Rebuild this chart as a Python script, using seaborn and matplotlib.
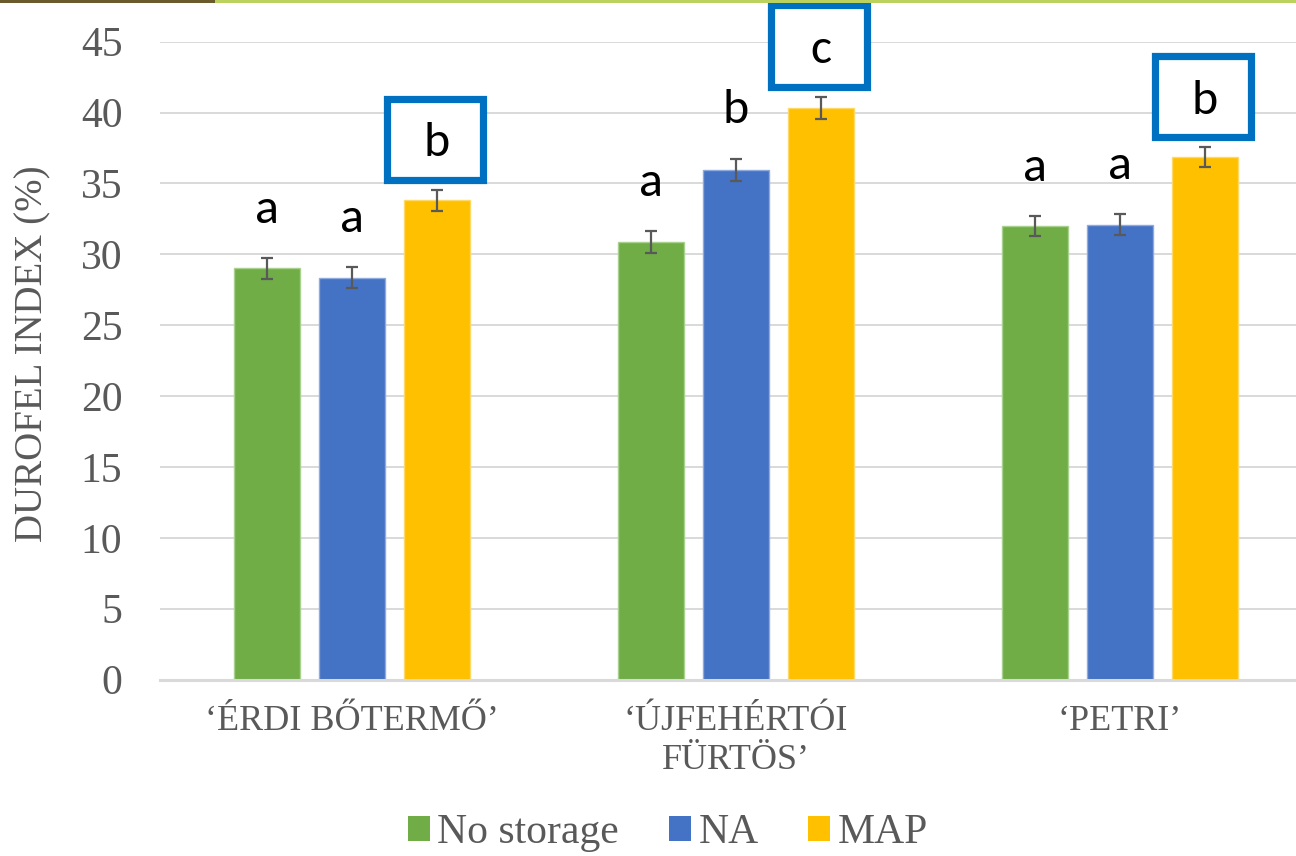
import matplotlib
matplotlib.use("Agg")
import matplotlib.pyplot as plt
from matplotlib.patches import Patch, Rectangle
import seaborn as sns
import pandas as pd

# Durofel firmness index per cultivar and storage treatment
cultivars = ["‘ÉRDI BŐTERMŐ’", "‘ÚJFEHÉRTÓI\nFÜRTÖS’", "‘PETRI’"]
treatments = ["No storage", "NA", "MAP"]

no_storage = [29.0, 30.85, 32.0]
na = [28.35, 35.95, 32.1]
map_storage = [33.8, 40.35, 36.85]

no_storage_err = [0.76, 0.78, 0.72]
na_err = [0.72, 0.80, 0.72]
map_err = [0.74, 0.78, 0.70]

# significance letters (Tukey groups)
no_storage_letters = ["a", "a", "a"]
na_letters = ["a", "b", "a"]
map_letters = ["b", "c", "b"]
highlighted = "MAP"

y_ticks = [0, 5, 10, 15, 20, 25, 30, 35, 40, 45]

colors = {"No storage": "#70AD47", "NA": "#4472C4", "MAP": "#FFC000"}
edges = {"No storage": "#A9D18E", "NA": "#8FAADC", "MAP": "#FFD966"}

values = {"No storage": no_storage, "NA": na, "MAP": map_storage}
errors = {"No storage": no_storage_err, "NA": na_err, "MAP": map_err}
letters = {"No storage": no_storage_letters, "NA": na_letters, "MAP": map_letters}

df = pd.DataFrame(
    [(c, t, values[t][i]) for t in treatments for i, c in enumerate(cultivars)],
    columns=["cultivar", "treatment", "value"],
)

sns.set_style("white")
plt.rcParams["font.family"] = "Liberation Serif"
serif = "Liberation Serif"
sans = "Carlito"
grey = "#595959"

W, H = 1296, 856
fig = plt.figure(figsize=(W / 100, H / 100), dpi=100)
ax_left, ax_right, ax_top, ax_bottom = 160, 1312, 41.7, 679.5
ax = fig.add_axes([ax_left / W, 1 - ax_bottom / H,
                   (ax_right - ax_left) / W, (ax_bottom - ax_top) / H])

sns.barplot(data=df, x="cultivar", y="value", hue="treatment",
            order=cultivars, hue_order=treatments, palette=colors,
            saturation=1, width=0.663, gap=0.22, errorbar=None,
            legend=False, ax=ax, zorder=2)

for container, t in zip(ax.containers, treatments):
    xs = []
    for bar in container:
        bar.set_edgecolor(edges[t])
        bar.set_linewidth(1.0)
        xs.append(bar.get_x() + bar.get_width() / 2)
    ax.errorbar(xs, values[t], yerr=errors[t], fmt="none", ecolor=grey,
                elinewidth=1.6, capsize=4.3, capthick=1.6, zorder=3)
    for x, v, e, lab in zip(xs, values[t], errors[t], letters[t]):
        ly = v + e + 3.4
        if t == highlighted:
            ly -= 0.1
            ax.add_patch(Rectangle((x - 0.131, ly - 2.6), 0.25, 5.75,
                                   facecolor="white", edgecolor="#0070C0",
                                   linewidth=5.2, clip_on=False, zorder=4))
        ax.text(x, ly, lab, ha="center", va="center", fontsize=36,
                family=sans, color="black", zorder=5, clip_on=False)

ax.set_ylim(0, 45)
ax.set_xlim(-0.5, 2.5)
ax.set_yticks(y_ticks)
ax.set_yticklabels([str(v) for v in y_ticks])
ax.yaxis.grid(True, color="#D9D9D9", linewidth=1.4, zorder=0)
ax.xaxis.grid(False)
ax.set_axisbelow(True)
for side in ["left", "top", "right"]:
    ax.spines[side].set_visible(False)
ax.spines["bottom"].set_color("#D9D9D9")
ax.spines["bottom"].set_linewidth(2.2)

ax.tick_params(axis="y", length=0, pad=27, labelsize=30, labelcolor=grey)
ax.tick_params(axis="x", length=0, pad=18, labelsize=26, labelcolor=grey)
for lab in ax.get_xticklabels():
    lab.set_linespacing(1.25)

ax.set_xlabel("")
ax.set_ylabel("")
fig.text(33 / W, 1 - 354 / H, "DUROFEL INDEX (%)", rotation=90,
         ha="center", va="center", fontsize=28, color=grey, family=serif)

handles = [Patch(facecolor=colors[t], edgecolor="none") for t in treatments]
fig.legend(handles, treatments, loc="center",
           bbox_to_anchor=(668 / W, 1 - 833 / H), ncol=3, frameon=False,
           prop={"family": serif, "size": 30}, labelcolor=grey,
           handlelength=0.52, handleheight=0.55, handletextpad=0.18,
           columnspacing=1.2, borderaxespad=0, borderpad=0)

# decorative strip along the top edge
fig.add_artist(Rectangle((0, 1 - 3 / H), 1, 3 / H, transform=fig.transFigure,
                         facecolor="#BBD35E", edgecolor="none"))
fig.add_artist(Rectangle((0, 1 - 3 / H), 215 / W, 3 / H,
                         transform=fig.transFigure,
                         facecolor="#6B5B2C", edgecolor="none"))

fig.savefig("out.png", dpi=100)
